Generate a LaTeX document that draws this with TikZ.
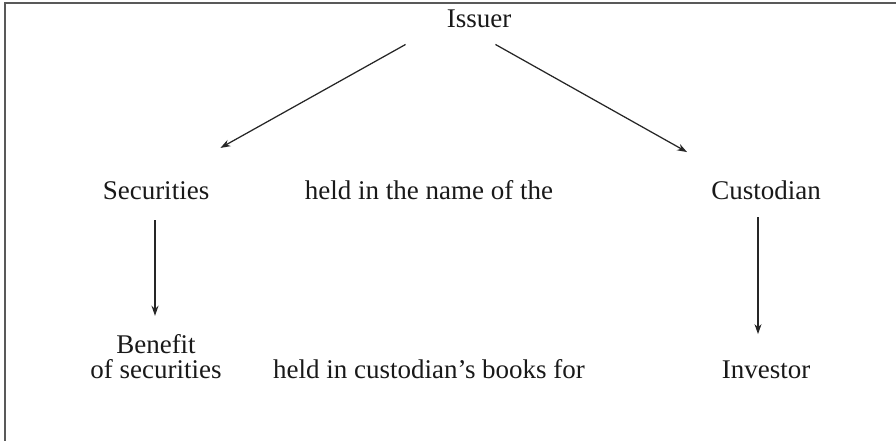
\documentclass[tikz,border=0pt]{standalone}
\usepackage{fontspec}
\setmainfont{Liberation Serif}
\usetikzlibrary{arrows.meta}
\begin{document}
\begin{tikzpicture}[x=1pt,y=-1pt,
  every node/.style={font=\fontsize{27}{25}\selectfont, inner sep=0pt, text=black!90},
  lbl/.style={anchor=base},
  arr/.style={-{Stealth[length=10pt,width=7pt]}, line width=1.25pt, draw=black!85}]
\useasboundingbox (0,0) rectangle (896,441);
\draw[line width=1.5pt, draw=black!65] (5,441) -- (5,3) -- (896,3);
\node[lbl] (iss) at (479,28) {Issuer};
\node[lbl] (sec) at (156,199) {Securities};
\node[lbl] (held1) at (429,199) {held in the name of the};
\node[lbl] (cus) at (766,199) {Custodian};
\node[lbl, align=center] (ben) at (156,378) {Benefit\\of securities};
\node[lbl] (held2) at (429,378) {held in custodian’s books for};
\node[lbl] (inv) at (766,378) {Investor};
\draw[arr] ([shift={(-41,16)}]iss.south west) -- ([shift={(11,-33)}]sec.north east);
\draw[arr] ([shift={(-1,21)}]sec.south) -- ([shift={(-1,-18)}]ben.north);
\draw[arr] ([shift={(-16,16)}]iss.south east) -- ([shift={(-24,-28)}]cus.north west);
\draw[arr] ([shift={(-8,18)}]cus.south) -- ([shift={(-8,-26)}]inv.north);
\end{tikzpicture}
\end{document}
